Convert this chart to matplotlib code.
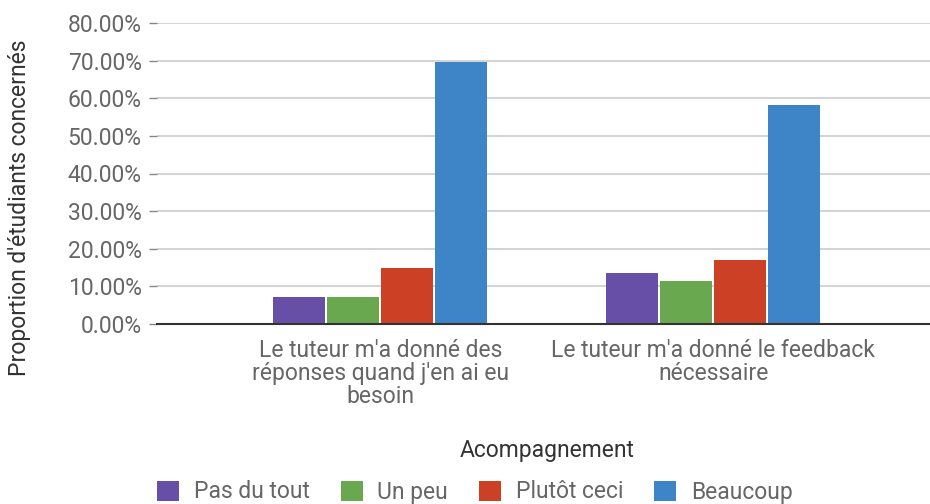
import matplotlib
matplotlib.use("Agg")
import matplotlib.pyplot as plt
import numpy as np
from matplotlib.ticker import FuncFormatter

plt.rcParams["font.family"] = ["Roboto", "DejaVu Sans"]

categories = [
    "Le tuteur m'a donné des\nréponses quand j'en ai eu\nbesoin",
    "Le tuteur m'a donné le feedback\nnécessaire",
]
series = ["Pas du tout", "Un peu", "Plutôt ceci", "Beaucoup"]
values = {
    "Pas du tout": [7.3, 13.5],
    "Un peu": [7.3, 11.3],
    "Plutôt ceci": [14.8, 16.9],
    "Beaucoup": [69.6, 58.3],
}
colors = ["#674ea7", "#6aa84f", "#cc4125", "#3d85c6"]

TEXT = "#666666"
FS = 16.5

fig = plt.figure(figsize=(9.3, 5.04), dpi=100)
ax = fig.add_axes([157 / 930, 1 - 324 / 504, 1 - 157 / 930, (324 - 23) / 504])

x = np.arange(len(categories))
step = 0.162
width = 0.156
for i, (name, col) in enumerate(zip(series, colors)):
    off = (i - 1.5) * step
    ax.bar(x + off, values[name], width=width, color=col, label=name, zorder=3)

ax.set_xlim(-0.67, 1.65)
ax.set_ylim(0, 80)
ax.set_yticks(np.arange(0, 81, 10))
ax.yaxis.set_major_formatter(FuncFormatter(lambda v, _: f"{v:.2f}%"))
ax.grid(axis="y", color="#cccccc", linewidth=1.2, zorder=0)
ax.set_axisbelow(True)

for s in ["top", "right", "left"]:
    ax.spines[s].set_visible(False)
ax.spines["bottom"].set_color("#333333")
ax.spines["bottom"].set_linewidth(1.5)
ax.spines["bottom"].set_zorder(4)

ax.tick_params(axis="y", colors="#888888", labelcolor=TEXT, labelsize=FS,
               length=6, width=1, pad=5)
ax.tick_params(axis="x", length=0, labelsize=FS, labelcolor=TEXT, pad=11)
ax.set_xticks(x)
ax.set_xticklabels(categories, linespacing=1.0)

ax.set_ylabel("Proportion d'étudiants concernés", fontsize=FS, color="#333333")
ax.yaxis.set_label_coords(-0.163, 0.385)

fig.text(547 / 930, 1 - 450 / 504, "Acompagnement", fontsize=FS,
         color="#333333", ha="center", va="center")

fig.legend(loc="center", bbox_to_anchor=(475 / 930, 1 - 492 / 504), ncol=4,
           frameon=False, fontsize=FS, labelcolor=TEXT, handlelength=0.95,
           handleheight=0.95, handletextpad=0.65, columnspacing=1.35)

fig.savefig("out.png", dpi=100)
